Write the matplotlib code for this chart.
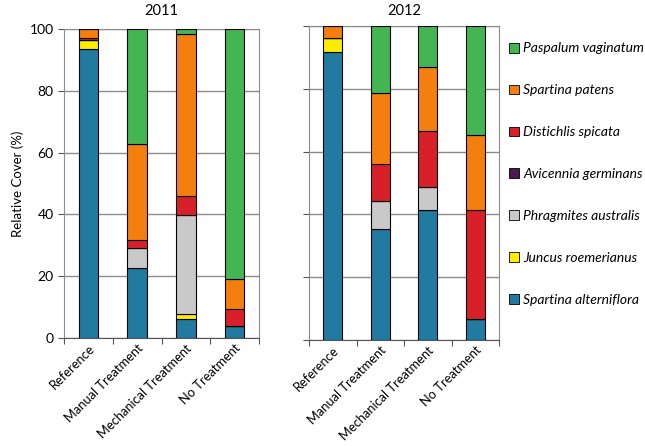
import matplotlib.pyplot as plt
from matplotlib.patches import Patch

plt.rcParams['font.family'] = ['Lato', 'DejaVu Sans']

categories = ["Reference", "Manual Treatment", "Mechanical Treatment", "No Treatment"]
species = ["Spartina alterniflora", "Juncus roemerianus", "Phragmites australis",
           "Avicennia germinans", "Distichlis spicata", "Spartina patens",
           "Paspalum vaginatum"]
colours = ["#217AA0", "#FFEC00", "#C9C9C9", "#4B1A4F", "#D7202A", "#F47E0E", "#44B553"]

# relative cover (%) per species, one value per category
cover_2011 = {
    "Spartina alterniflora": [93.5, 22.8, 6.1, 3.8],
    "Juncus roemerianus":    [2.9, 0.0, 1.7, 0.0],
    "Phragmites australis":  [0.0, 6.4, 32.1, 0.0],
    "Avicennia germinans":   [0.0, 0.0, 0.0, 0.0],
    "Distichlis spicata":    [0.6, 2.4, 6.2, 5.7],
    "Spartina patens":       [3.0, 31.1, 52.4, 9.6],
    "Paspalum vaginatum":    [0.0, 37.3, 1.5, 80.9],
}
cover_2012 = {
    "Spartina alterniflora": [91.6, 35.4, 41.3, 6.7],
    "Juncus roemerianus":    [4.7, 0.0, 0.0, 0.0],
    "Phragmites australis":  [0.0, 8.9, 7.3, 0.0],
    "Avicennia germinans":   [0.0, 0.0, 0.2, 0.0],
    "Distichlis spicata":    [0.0, 11.7, 17.7, 34.8],
    "Spartina patens":       [3.7, 22.8, 20.3, 23.9],
    "Paspalum vaginatum":    [0.0, 21.2, 13.2, 34.6],
}


def draw_panel(ax, data, show_labels):
    x = range(len(categories))
    bottom = [0.0] * len(categories)
    for name, colour in zip(species, colours):
        vals = data[name]
        ax.bar(x, vals, width=0.4, bottom=bottom, color=colour,
               edgecolor="black", linewidth=0.8, zorder=3)
        bottom = [b + v for b, v in zip(bottom, vals)]
    ax.set_ylim(0, 100)
    ax.set_xlim(-0.5, len(categories) - 0.5)
    ax.set_yticks([0, 20, 40, 60, 80, 100])
    ax.yaxis.grid(True, color="#8c8c8c", linewidth=1.0, zorder=0)
    ax.set_xticks([i - 0.5 for i in range(len(categories) + 1)], minor=False)
    ax.set_xticklabels([])
    ax.set_xticks(list(x), minor=True)
    ax.set_xticklabels(categories, minor=True, rotation=45, ha="right",
                       rotation_mode="anchor", fontsize=9.3)
    ax.tick_params(axis="x", which="minor", length=0, pad=3)
    ax.tick_params(axis="x", which="major", length=4, color="#555555", direction="out")
    ax.tick_params(axis="y", length=4, color="#555555", labelsize=10)
    if not show_labels:
        ax.set_yticklabels([])
    for s in ax.spines.values():
        s.set_color("#8c8c8c")
    ax.spines["bottom"].set_color("#555555")


fig = plt.figure(figsize=(6.45, 4.46), dpi=100)
ax1 = fig.add_axes([64 / 645, 1 - 338 / 446, 195 / 645, 309 / 446])
ax2 = fig.add_axes([309 / 645, 1 - 340 / 446, 190 / 645, 314 / 446])

draw_panel(ax1, cover_2011, True)
draw_panel(ax2, cover_2012, False)
ax1.set_ylabel("Relative Cover (%)", fontsize=9.5)
fig.text(161 / 645, 1 - 11 / 446, "2011", ha="center", va="center", fontsize=10.5)
fig.text(404 / 645, 1 - 11 / 446, "2012", ha="center", va="center", fontsize=10.5)

handles = [Patch(facecolor=c, edgecolor="black", linewidth=0.6) for c in colours]
fig.legend(handles[::-1], species[::-1], loc="upper left",
           bbox_to_anchor=(497 / 645, 1 - 30 / 446), frameon=False,
           prop={"style": "italic", "size": 10}, handlelength=0.7,
           handleheight=0.7, handletextpad=0.3, labelspacing=2.15)

fig.savefig("out.png", dpi=100)
